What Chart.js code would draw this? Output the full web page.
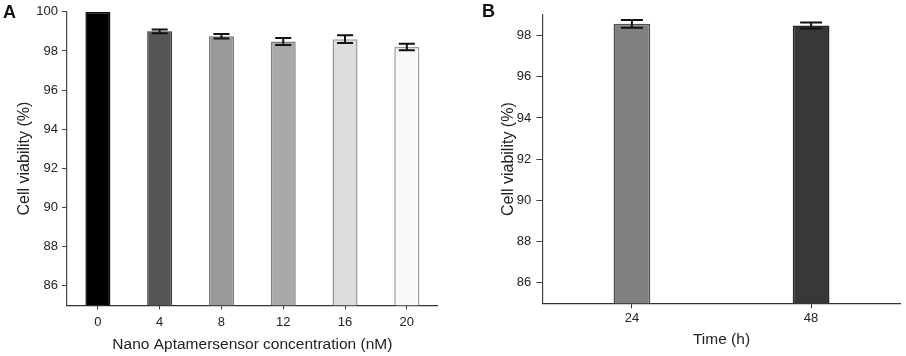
<!DOCTYPE html>
<html>
<head>
<meta charset="utf-8">
<script src="https://cdn.jsdelivr.net/npm/chart.js@4.4.1/dist/chart.umd.min.js"></script>
<style>
  html, body { margin: 0; padding: 0; background: #fff; }
  #wrap { position: relative; width: 906px; height: 356px; overflow: hidden; }
  .panel { position: absolute; top: 0; }
  .tag { position: absolute; font-family: "Liberation Sans", Arial, sans-serif; font-weight: bold; font-size: 18px; line-height: 18px; color: #111; }
</style>
</head>
<body>
<div id="wrap">
  <canvas id="chartA" class="panel" width="450" height="356" style="left:0px;width:450px;height:356px"></canvas>
  <canvas id="chartB" class="panel" width="436" height="356" style="left:470px;width:436px;height:356px"></canvas>
  <div class="tag" style="left:3px;top:3px">A</div>
  <div class="tag" style="left:482px;top:2px">B</div>
</div>
<script>
// ---- Panel A data ----
const categoriesA = ['0', '4', '8', '12', '16', '20'];
const valuesA = [100, 99.0, 98.75, 98.48, 98.6, 98.2];
const errorsA = [0, 0.1, 0.12, 0.18, 0.2, 0.17];
const colorsA = ['#000000', '#555555', '#999999', '#a9a9a9', '#dcdcdc', '#fafafa'];
const bordersA = ['#111111', '#3c3c3c', '#777777', '#808080', '#999999', '#9a9a9a'];
const yTicksA = [86, 88, 90, 92, 94, 96, 98, 100];

// ---- Panel B data ----
const categoriesB = ['24', '48'];
const valuesB = [98.57, 98.49];
const errorsB = [0.19, 0.15];
const colorsB = ['#808080', '#383838'];
const bordersB = ['#505050', '#252525'];
const yTicksB = [86, 88, 90, 92, 94, 96, 98];

Chart.defaults.font.family = '"Liberation Sans", Arial, sans-serif';
Chart.defaults.color = '#222';

const errorBarPlugin = {
  id: 'errorBars',
  afterDatasetsDraw(chart, args, opts) {
    const ctx = chart.ctx;
    const meta = chart.getDatasetMeta(0);
    const ys = chart.scales.y;
    const vals = chart.data.datasets[0].data;
    ctx.save();
    ctx.strokeStyle = '#111';
    ctx.lineWidth = opts.lineWidth || 2;
    meta.data.forEach((bar, i) => {
      const e = opts.errors[i];
      if (!e) return;
      const x = bar.x;
      const yTop = ys.getPixelForValue(vals[i] + e);
      const yBot = ys.getPixelForValue(vals[i] - e);
      const h = opts.cap / 2;
      ctx.beginPath();
      ctx.moveTo(x, yTop); ctx.lineTo(x, yBot);
      ctx.moveTo(x - h, yTop); ctx.lineTo(x + h, yTop);
      ctx.moveTo(x - h, yBot); ctx.lineTo(x + h, yBot);
      ctx.stroke();
    });
    ctx.restore();
  }
};

function makeChart(id, cfg) {
  return new Chart(document.getElementById(id), {
    type: 'bar',
    data: {
      labels: cfg.labels,
      datasets: [{
        data: cfg.values,
        backgroundColor: cfg.colors,
        borderColor: cfg.borders,
        borderWidth: 1.5,
        barPercentage: cfg.barPct,
        categoryPercentage: 1
      }]
    },
    plugins: [errorBarPlugin],
    options: {
      responsive: false,
      animation: false,
      devicePixelRatio: 1,
      layout: { padding: cfg.padding },
      plugins: {
        legend: { display: false },
        tooltip: { enabled: false },
        errorBars: { errors: cfg.errors, cap: cfg.cap, lineWidth: 2 }
      },
      scales: {
        x: {
          afterFit: s => { s.height = cfg.xHeight; },
          grid: { drawOnChartArea: false, offset: false, drawTicks: true, tickLength: cfg.xTickLen, color: '#333' },
          border: { color: '#333', width: 1.2 },
          ticks: { font: { size: 13 }, padding: cfg.xTickPad, color: '#222' },
          title: { display: true, text: cfg.xTitle, font: { size: 15.5 }, color: '#222', padding: { top: 0, bottom: cfg.xTitlePad } }
        },
        y: {
          min: cfg.yMin, max: cfg.yMax,
          afterFit: s => { s.width = cfg.yWidth; },
          afterBuildTicks: s => { s.ticks = cfg.yTicks.map(v => ({ value: v })); },
          grid: { drawOnChartArea: false, drawTicks: true, tickLength: cfg.yTickLen, color: '#444' },
          border: { color: '#444', width: 1.2 },
          ticks: { font: { size: 13 }, padding: cfg.yTickPad, color: '#222' },
          title: { display: true, text: 'Cell viability (%)', font: { size: 16 }, color: '#222', padding: { top: cfg.yTitlePad, bottom: 0 } }
        }
      }
    }
  });
}

makeChart('chartA', {
  labels: categoriesA, values: valuesA, errors: errorsA, colors: colorsA, borders: bordersA,
  yTicks: yTicksA, yMin: 85, yMax: 100, barPct: 0.405, cap: 16,
  padding: { left: 0, right: 12.3, top: 8, bottom: 0 },
  xHeight: 50.7, yWidth: 67, xTickLen: 4, xTickPad: 5, yTickLen: 5, yTickPad: 4,
  xTitle: 'Nano Aptamersensor concentration (nM)', xTitlePad: 1.7, yTitlePad: 15.4
});

makeChart('chartB', {
  labels: categoriesB, values: valuesB, errors: errorsB, colors: colorsB, borders: bordersB,
  yTicks: yTicksB, yMin: 85, yMax: 99, barPct: 0.205, cap: 22,
  padding: { left: 0, right: 5.3, top: 15, bottom: 0 },
  xHeight: 52.7, yWidth: 72.3, xTickLen: 5, xTickPad: 2, yTickLen: 6, yTickPad: 5,
  xTitle: 'Time (h)', xTitlePad: 6.7, yTitlePad: 29.4
});
</script>
</body>
</html>
